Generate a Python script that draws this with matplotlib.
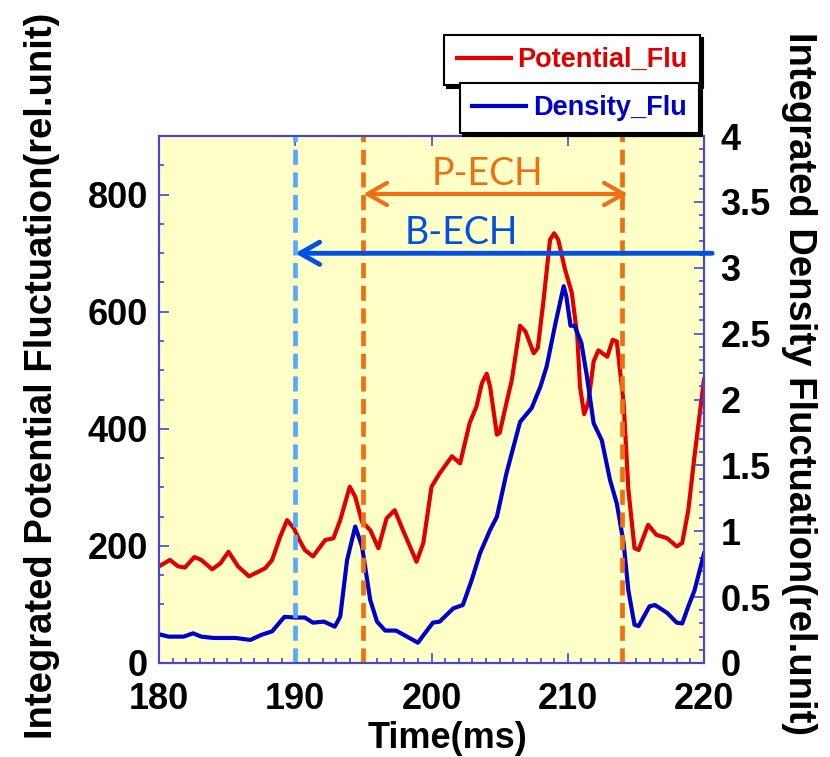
#!/bin/env python3

import matplotlib
matplotlib.use("Agg")
import matplotlib.pyplot as plt
from   matplotlib.ticker import MultipleLocator, FuncFormatter

plt.rcParams['font.family'] = ['Liberation Sans', 'DejaVu Sans']
plt.rcParams['font.weight'] = 'bold'
plt.rcParams['axes.labelweight'] = 'bold'

# integrated potential fluctuation (left axis)
time_pot  = [180.0, 180.8, 181.4, 181.9, 182.6, 183.1, 183.9, 184.5, 185.1, 185.8,
             186.6, 187.3, 187.8, 188.3, 188.9, 189.4, 189.9, 190.3, 190.7, 191.3,
             192.2, 192.8, 193.3, 194.0, 194.4, 194.9, 195.5, 196.1, 196.7, 197.3,
             197.9, 198.9, 199.4, 200.0, 200.6, 201.5, 202.1, 202.8, 203.3, 203.7,
             204.05, 204.3, 204.8, 205.0, 205.5, 205.9, 206.5, 206.9, 207.5, 207.8,
             208.2, 208.7, 209.0, 209.3, 209.8, 210.3, 210.7, 210.9, 211.2, 211.5,
             211.9, 212.25, 212.9, 213.3, 213.6, 214.1, 214.45, 214.9, 215.2, 215.9,
             216.5, 217.3, 218.0, 218.4, 218.85, 219.3, 220.0]
potential = [165, 176, 165, 163, 181, 176, 160, 170, 190, 165,
             148, 156, 162, 176, 216, 244, 230, 210, 193, 182,
             210, 213, 244, 301, 284, 241, 227, 196, 247, 261,
             227, 173, 205, 301, 324, 353, 341, 410, 438, 478,
             494, 472, 390, 393, 444, 484, 576, 566, 529, 538,
             615, 723, 734, 723, 672, 632, 558, 472, 425, 444,
             515, 534, 523, 552, 549, 444, 296, 196, 193, 236,
             219, 213, 199, 205, 261, 353, 484]

# integrated density fluctuation (right axis)
time_den  = [180.0, 180.7, 181.8, 182.5, 183.1, 184.0, 185.6, 186.7, 187.5, 188.3,
             189.2, 190.0, 190.7, 191.3, 192.1, 192.9, 193.3, 193.8, 194.4, 194.9,
             195.5, 196.0, 196.6, 197.4, 198.2, 199.0, 200.1, 200.6, 201.6, 202.3,
             202.95, 203.56, 204.3, 204.8, 205.5, 206.5, 207.35, 208.0, 208.45, 209.1,
             209.7, 209.9, 210.2, 210.5, 211.0, 211.4, 211.9, 212.5, 213.1, 213.6,
             214.1, 214.45, 214.9, 215.2, 216.0, 216.4, 217.3, 218.0, 218.4, 218.85,
             219.3, 220.0]
density   = [0.218, 0.20, 0.20, 0.225, 0.20, 0.19, 0.19, 0.175, 0.213, 0.24,
             0.35, 0.345, 0.345, 0.306, 0.314, 0.276, 0.352, 0.78, 1.036, 0.884,
             0.479, 0.314, 0.246, 0.246, 0.20, 0.154, 0.306, 0.314, 0.415, 0.44,
             0.63, 0.833, 1.01, 1.11, 1.44, 1.83, 1.935, 2.10, 2.25, 2.58,
             2.86, 2.78, 2.56, 2.56, 2.43, 2.18, 1.82, 1.69, 1.39, 1.21,
             0.91, 0.55, 0.29, 0.28, 0.43, 0.44, 0.38, 0.306, 0.30, 0.43,
             0.55, 0.83]

# heating windows (ms) and arrow levels (right axis units)
b_ech_on  = 190.0
b_ech_end = 220.6
p_ech_on  = 195.0
p_ech_off = 214.0
p_arrow_y = 3.56
b_arrow_y = 3.11

spine_col = '#4646D2'
red       = '#E00000'
blue      = '#0000CC'
orange    = '#EE7012'
lt_blue   = '#55AAFF'
arr_blue  = '#0050E6'

fig = plt.figure(figsize=(8.3, 7.57), dpi=100)
ax  = fig.add_axes([0.1916, 0.1242, 0.6566, 0.6961])
ax.set_facecolor('#FFFFC8')
ax2 = ax.twinx()

l_pot, = ax.plot(time_pot, potential, color=red, lw=3)
l_den, = ax2.plot(time_den, density, color=blue, lw=3)

ax.set_xlim(180, 220)
ax.set_ylim(0, 900)
ax2.set_ylim(0, 4)

ax.xaxis.set_major_locator(MultipleLocator(10))
ax.xaxis.set_minor_locator(MultipleLocator(1))
ax.yaxis.set_major_locator(MultipleLocator(200))
ax.yaxis.set_minor_locator(MultipleLocator(50))
ax2.yaxis.set_major_locator(MultipleLocator(0.5))
ax2.yaxis.set_minor_locator(MultipleLocator(0.1))
ax2.yaxis.set_major_formatter(FuncFormatter(lambda v, p: f"{v:g}"))

for a in (ax, ax2):
    for sp in a.spines.values():
        sp.set_color(spine_col)
        sp.set_linewidth(1.5)
    a.tick_params(which='both', direction='in', color=spine_col, labelsize=26, width=1.2)
    a.tick_params(which='major', length=7)
    a.tick_params(which='minor', length=3.5)
ax.tick_params(axis='x', top=True, pad=14)
ax.tick_params(axis='y', pad=8)
ax2.tick_params(axis='y', pad=12)

# heating markers
ax2.axvline(b_ech_on,  color=lt_blue, lw=3.4, dashes=(3.2, 1.6))
ax2.axvline(p_ech_on,  color=orange,  lw=3.4, dashes=(3.2, 1.6))
ax2.axvline(p_ech_off, color=orange,  lw=3.4, dashes=(3.2, 1.6))

ax2.annotate('', xy=(p_ech_on, p_arrow_y), xytext=(p_ech_off + 0.4, p_arrow_y),
             arrowprops=dict(arrowstyle='<->,head_length=0.7,head_width=0.4',
                             color=orange, lw=3, shrinkA=0, shrinkB=0, mutation_scale=20))
ax2.annotate('', xy=(b_ech_on, b_arrow_y), xytext=(b_ech_end, b_arrow_y),
             arrowprops=dict(arrowstyle='->,head_length=0.7,head_width=0.4',
                             color=arr_blue, lw=3.5, shrinkA=0, shrinkB=0, mutation_scale=20),
             annotation_clip=False)
ax2.text(204.1, p_arrow_y + 0.07, 'P-ECH', color=orange, fontsize=27, family='Lato',
         fontweight='normal', ha='center', va='baseline')
ax2.text(202.2, b_arrow_y + 0.07, 'B-ECH', color=arr_blue, fontsize=27, family='Lato',
         fontweight='normal', ha='center', va='baseline')

ax.set_xlabel('Time(ms)', fontsize=26)
ax.xaxis.set_label_coords(0.53, -0.11)
ax.set_ylabel('Integrated Potential Fluctuation(rel.unit)', fontsize=27.5, va='center')
ax.yaxis.set_label_coords(-0.215, 0.545)
ax2.set_ylabel('Integrated Density Fluctuation(rel.unit)', fontsize=27.5, va='center', rotation=270)
ax2.yaxis.set_label_coords(1.175, 0.53)

shadow = {'color': 'black', 'alpha': 1}
leg1 = fig.legend([l_pot], ['Potential_Flu'], loc='upper right', bbox_to_anchor=(0.8434, 0.9538),
                  fontsize=19.5, fancybox=False, edgecolor='black', framealpha=1, shadow=shadow,
                  handlelength=2.0, handletextpad=0.25, borderpad=0.45, borderaxespad=0,
                  labelcolor=red)
leg2 = fig.legend([l_den], ['Density_Flu'], loc='upper right', bbox_to_anchor=(0.8422, 0.8904),
                  fontsize=19.5, fancybox=False, edgecolor='black', framealpha=1, shadow=shadow,
                  handlelength=2.0, handletextpad=0.25, borderpad=0.45, borderaxespad=0,
                  labelcolor=blue)
leg2.set_zorder(6)
for leg in (leg1, leg2):
    leg.get_frame().set_linewidth(1.5)

plt.savefig("out.png", dpi=100)
